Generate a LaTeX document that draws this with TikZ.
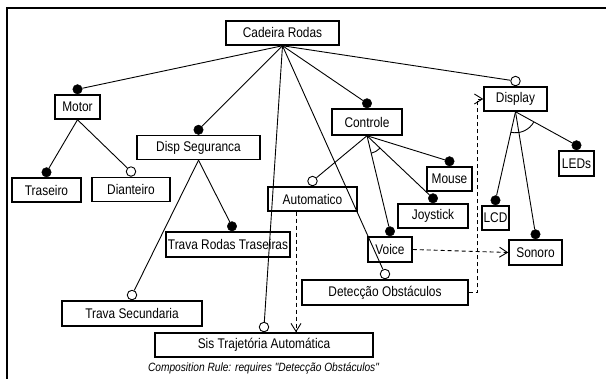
\documentclass[tikz,border=0pt]{standalone}
\usepackage{fontspec}
\setmainfont{Liberation Sans}
\newfontfamily\featfont[FakeStretch=0.85]{Liberation Sans}
\usetikzlibrary{arrows.meta}

\begin{document}
\begin{tikzpicture}[x=1pt,y=-1pt,
    feat/.style={draw,line width=1.5pt,inner sep=0pt,minimum height=24,
                 font=\featfont\fontsize{14}{16}\selectfont},
    mand/.style={circle,draw,fill=black,inner sep=0pt,minimum size=9.5pt,anchor=south},
    opt/.style={circle,draw,fill=white,line width=0.9pt,inner sep=0pt,minimum size=9.5pt,anchor=south},
    conn/.style={line width=0.9pt},
    req/.style={line width=0.9pt,dash pattern=on 4pt off 3pt,
                -{Straight Barb[length=8pt,width=10pt]}}]
  \useasboundingbox (0,0) rectangle (606,379);
  \draw[line width=1.5pt] (7,379) -- (7,8) -- (606,8);

  % features
  \node[feat,minimum width=113] (Cadeira) at (282.5,33) {Cadeira Rodas};
  \node[feat,minimum width=45] (Motor) at (77.5,107) {Motor};
  \node[feat,minimum width=123] (Disp) at (198.5,147.5) {Disp Seguranca};
  \node[feat,minimum width=69] (Traseiro) at (46.5,190) {Traseiro};
  \node[feat,minimum width=78] (Dianteiro) at (131,189.5) {Dianteiro};
  \node[feat,minimum width=70,minimum height=26] (Controle) at (367,122) {Controle};
  \node[feat,minimum width=63] (Display) at (515.5,99) {Display};
  \node[feat,minimum width=35,minimum height=25] (LEDs) at (576.5,163.5) {LEDs};
  \node[feat,minimum width=45] (Mouse) at (449.5,179) {Mouse};
  \node[feat,minimum width=70] (Joystick) at (433,216) {Joystick};
  \node[feat,minimum width=27] (LCD) at (495.5,218) {LCD};
  \node[feat,minimum width=53,minimum height=25] (Sonoro) at (535.5,252.5) {Sonoro};
  \node[feat,minimum width=44,minimum height=25] (Voice) at (390,249.5) {Voice};
  \node[feat,minimum width=89] (Automatico) at (312.5,199) {Automatico};
  \node[feat,minimum width=124,minimum height=25] (TravaRodas) at (228,244.5) {Trava Rodas Traseiras};
  \node[feat,minimum width=166,minimum height=25] (Deteccao) at (385,292.5) {Detecção Obstáculos};
  \node[feat,minimum width=140,minimum height=25] (TravaSec) at (132,313.5) {Trava Secundaria};
  \node[feat,minimum width=218] (Sis) at (264,345) {Sis Trajetória Automática};
  \node[font=\featfont\itshape\fontsize{12}{13}\selectfont] (Rule) at (263.5,368)
    {Composition Rule: requires "Detecção Obstáculos"};

  % markers
  \node[mand] (Motor_m) at (Motor.north) {};
  \node[mand] (Disp_m) at (Disp.north) {};
  \node[mand] (Controle_m) at (Controle.north) {};
  \node[opt] (Display_m) at (Display.north) {};
  \node[opt] (Sis_m) at (Sis.north) {};
  \node[opt] (Deteccao_m) at (Deteccao.north) {};
  \node[mand] (Traseiro_m) at (Traseiro.north) {};
  \node[opt] (Dianteiro_m) at (Dianteiro.north) {};
  \node[mand] (TravaRodas_m) at ([xshift=4]TravaRodas.north) {};
  \node[opt] (TravaSec_m) at (TravaSec.north) {};
  \node[opt] (Automatico_m) at (Automatico.north) {};
  \node[mand] (Mouse_m) at (Mouse.north) {};
  \node[mand] (Joystick_m) at (Joystick.north) {};
  \node[mand] (Voice_m) at (Voice.north) {};
  \node[mand] (LCD_m) at (LCD.north) {};
  \node[mand] (Sonoro_m) at (Sonoro.north) {};
  \node[mand] (LEDs_m) at (LEDs.north) {};

  \path[conn]
    (Cadeira.south) edge (Motor_m)
                    edge (Disp_m)
                    edge (Controle_m)
                    edge (Display_m)
                    edge (Sis_m)
                    edge (Deteccao_m)
    (Motor.south) edge (Traseiro_m)
                  edge (Dianteiro_m)
    (Disp.south) edge (TravaRodas_m)
                 edge (TravaSec_m)
    (Controle.south) edge (Automatico_m)
                     edge (Voice_m)
                     edge (Joystick_m)
                     edge (Mouse_m)
    (Display.south) edge (LCD_m)
                    edge (Sonoro_m)
                    edge (LEDs_m);

  % alternative groups
  \draw[conn] (Controle.south) ++(77:18) arc[start angle=77,end angle=44,radius=18];
  \draw[conn] (Display.south) ++(102:21) arc[start angle=102,end angle=30,radius=21];

  % requires
  \draw[req] (Deteccao.east) -- ++(9,0) |- (Display.west);
  \draw[req] (Voice.east) -- (Sonoro.west);
  \draw[req] ([xshift=-16.5]Automatico.south) -- ([xshift=-16.5]Automatico.south |- Sis.north);
\end{tikzpicture}
\end{document}
